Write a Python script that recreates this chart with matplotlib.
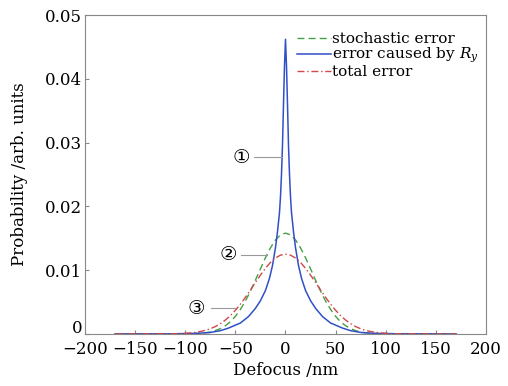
import numpy as np
import matplotlib
matplotlib.use("Agg")
from matplotlib import pyplot as plt
from matplotlib.transforms import ScaledTranslation

# half profiles, |defocus| in nm -> probability
blue_dx = [0, 1, 2, 3, 4, 5, 6, 8, 10, 13, 16, 20, 25, 30, 37, 45, 57, 65, 76, 90, 110, 140, 170]
blue_p = [0.0462, 0.042, 0.036, 0.0295, 0.025, 0.0215, 0.019, 0.0160, 0.0135, 0.0107, 0.0087,
          0.0068, 0.0052, 0.0040, 0.0027, 0.0017, 0.0009, 0.0005, 0.0002, 0.00008, 0.00002,
          0.00001, 0.0]

green_dx = [0, 5, 10, 15, 20, 25, 30, 35, 40, 45, 50, 55, 60, 65, 70, 75, 80, 85, 90, 95, 100, 120, 170]
green_p = [0.0158, 0.01553, 0.01473, 0.01349, 0.01194, 0.01019, 0.00841, 0.00669, 0.00514,
           0.00382, 0.00274, 0.00189, 0.00127, 0.00082, 0.00051, 0.00030, 0.00018, 0.0001,
           0.00005, 0.00002, 0.00001, 0.0, 0.0]

red_dx = [0, 5, 10, 15, 20, 25, 30, 35, 40, 45, 50, 55, 60, 65, 70, 75, 80, 85, 90, 95, 100,
          105, 110, 115, 130, 170]
red_p = [0.0125, 0.01235, 0.01190, 0.01120, 0.01028, 0.00921, 0.00806, 0.00687, 0.00572,
         0.00465, 0.00369, 0.00285, 0.00216, 0.00159, 0.00114, 0.0008, 0.00055, 0.00037,
         0.00024, 0.00015, 0.0001, 0.00005, 0.00003, 0.00002, 0.00001, 0.0]

labels = ["stochastic error", "error caused by $R_y$", "total error"]

def mirror(dx, p):
    dx = np.asarray(dx, float)
    p = np.asarray(p, float)
    x = np.concatenate([-dx[:0:-1], dx])
    y = np.concatenate([p[:0:-1], p])
    return x, y

plt.rcParams["font.family"] = ["DejaVu Serif", "DejaVu Sans"]
plt.rcParams["mathtext.fontset"] = "dejavuserif"

fig = plt.figure(figsize=(5.08, 3.86), dpi=100)
ax = fig.add_axes([0.167, 0.135, 0.79, 0.826])

gx, gy = mirror(green_dx, green_p)
bx, by = mirror(blue_dx, blue_p)
rx, ry = mirror(red_dx, red_p)
ax.plot(gx, gy, color="#44a044", lw=1.0, ls=(0, (5, 3)), label=labels[0])
ax.plot(bx, by, color="#3050c8", lw=1.1, label=labels[1])
ax.plot(rx, ry, color="#d04848", lw=1.0, ls=(0, (5, 2, 1, 2)), label=labels[2])

# callouts
ax.plot([-31.4, -3.8], [0.0277, 0.0277], color="#999999", lw=0.8)
ax.plot([-44.6, -18.3], [0.0124, 0.0124], color="#999999", lw=0.8)
ax.plot([-74.6, -50.4], [0.0040, 0.0040], color="#999999", lw=0.8)
for xc, yc, s in [(-43.7, 0.0277, "\u2460"), (-57, 0.0124, "\u2461"), (-88.6, 0.0040, "\u2462")]:
    ax.text(xc, yc, s, ha="center", va="center", fontsize=14, family=["DejaVu Sans"])

ax.set_xlim(-200, 200)
ax.set_ylim(0, 0.05)
ax.set_xticks([-200, -150, -100, -50, 0, 50, 100, 150, 200])
ax.set_yticks([0, 0.01, 0.02, 0.03, 0.04, 0.05])
ax.set_yticklabels(["0", "0.01", "0.02", "0.03", "0.04", "0.05"])
ax.tick_params(direction="in", length=3, color="#888888", labelsize=12, pad=2)
ax.tick_params(axis="x", pad=5)
for sp in ax.spines.values():
    sp.set_color("#888888")
    sp.set_linewidth(0.8)
# lift the "0" label so it clears the -200 label below
zero_lbl = ax.get_yticklabels()[0]
zero_lbl.set_transform(zero_lbl.get_transform() + ScaledTranslation(0, 5 / 72, fig.dpi_scale_trans))
ax.set_xlabel("Defocus /nm", fontsize=12, labelpad=3)
ax.set_ylabel("Probability /arb. units", fontsize=12, labelpad=12)

leg = ax.legend(loc="upper right", bbox_to_anchor=(1.005, 0.975), frameon=False, fontsize=11,
                handlelength=2.2, handletextpad=0.1, labelspacing=0.0, borderaxespad=0.2)

fig.savefig("out.png", dpi=100)
